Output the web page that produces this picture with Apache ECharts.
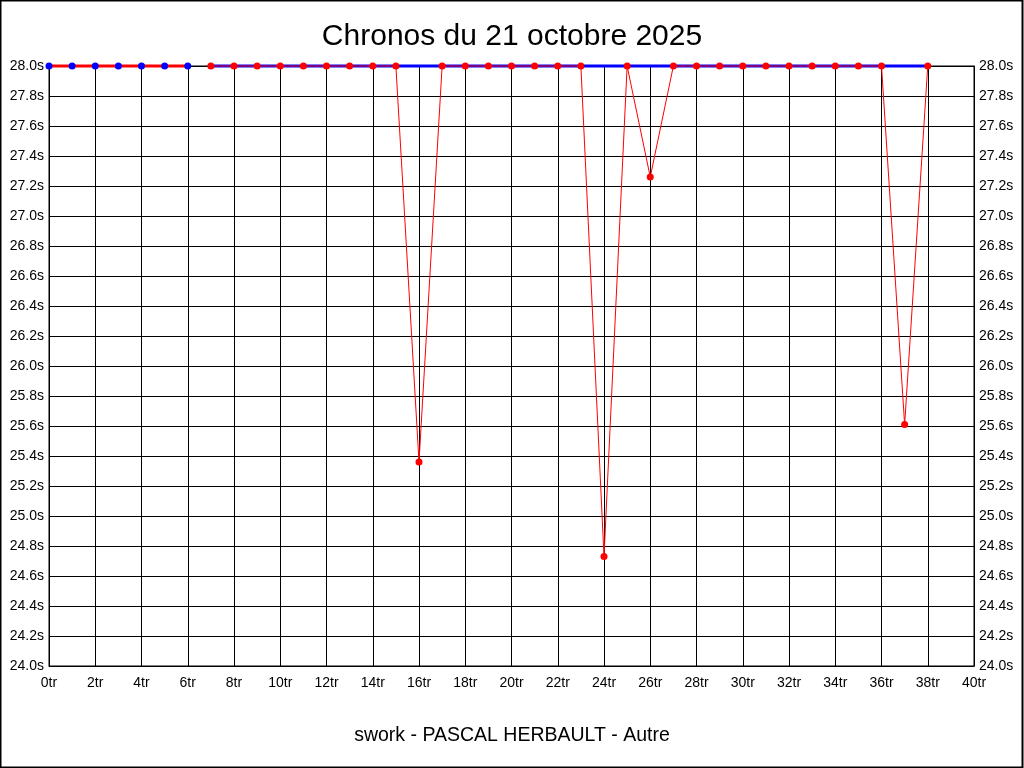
<!DOCTYPE html>
<html>
<head>
<meta charset="utf-8">
<script src="https://cdn.jsdelivr.net/npm/echarts@6/dist/echarts.min.js"></script>
<style>
html,body{margin:0;padding:0;background:#fff;}
#chart{width:1024px;height:768px;}
</style>
</head>
<body>
<div id="chart"></div>
<script>
const titleText = "Chronos du 21 octobre 2025";
const subtitleText = "swork - PASCAL HERBAULT - Autre";

// Laps 0..6 (red thick line, blue dots)
const warmupLaps  = [0, 1, 2, 3, 4, 5, 6];
const warmupTimes = [28.0, 28.0, 28.0, 28.0, 28.0, 28.0, 28.0];

// Laps 7..38 (thin red line, red dots)
const raceLaps  = [7, 8, 9, 10, 11, 12, 13, 14, 15, 16, 17, 18, 19, 20, 21, 22, 23,
                   24, 25, 26, 27, 28, 29, 30, 31, 32, 33, 34, 35, 36, 37, 38];
const raceTimes = [28.0, 28.0, 28.0, 28.0, 28.0, 28.0, 28.0, 28.0, 28.0, 25.36, 28.0, 28.0, 28.0, 28.0, 28.0, 28.0, 28.0,
                   24.73, 28.0, 27.26, 28.0, 28.0, 28.0, 28.0, 28.0, 28.0, 28.0, 28.0, 28.0, 28.0, 25.61, 28.0];

// Blue reference line
const refLaps  = [7, 38];
const refTimes = [28.0, 28.0];

const xTicks = {min: 0, max: 40, interval: 2};
const yTicks = {min: 24.0, max: 28.0, interval: 0.2};

const zip = (a, b) => a.map((v, i) => [v, b[i]]);
const FONT = 'Liberation Sans, Arial, sans-serif';

const yLabel = {
  color: '#000', fontSize: 14, fontFamily: FONT, margin: 5,
  formatter: v => v.toFixed(1) + 's'
};

const chart = echarts.init(document.getElementById('chart'), null, {renderer: 'canvas'});
chart.setOption({
  animation: false,
  backgroundColor: '#fff',
  title: [
    {text: titleText, left: 'center', top: 17,
     textStyle: {fontFamily: FONT, fontSize: 30, fontWeight: 'normal', color: '#000'}},
    {text: subtitleText, left: 'center', top: 721,
     textStyle: {fontFamily: FONT, fontSize: 19.5, fontWeight: 'normal', color: '#000'}}
  ],
  graphic: [{
    type: 'rect', silent: true,
    shape: {x: 0.5, y: 0.5, width: 1022, height: 767},
    style: {fill: 'none', stroke: '#000', lineWidth: 2}
  }],
  grid: {left: 49, right: 50, top: 66, bottom: 102, show: true, borderColor: '#000', borderWidth: 1},
  xAxis: {
    type: 'value', min: xTicks.min, max: xTicks.max, interval: xTicks.interval,
    axisLine: {show: true, lineStyle: {color: '#000', width: 1}},
    axisTick: {show: false},
    splitLine: {show: true, lineStyle: {color: '#000', width: 1}},
    axisLabel: {color: '#000', fontSize: 14, fontFamily: FONT, margin: 10, formatter: v => v + 'tr'}
  },
  yAxis: [
    {type: 'value', position: 'left', min: yTicks.min, max: yTicks.max, interval: yTicks.interval,
     axisLine: {show: true, lineStyle: {color: '#000'}}, axisTick: {show: false},
     splitLine: {show: true, lineStyle: {color: '#000', width: 1}}, axisLabel: yLabel},
    {type: 'value', position: 'right', min: yTicks.min, max: yTicks.max, interval: yTicks.interval,
     axisLine: {show: true, lineStyle: {color: '#000'}}, axisTick: {show: false},
     splitLine: {show: false}, axisLabel: yLabel}
  ],
  series: [
    {type: 'line', name: 'ref', data: zip(refLaps, refTimes), showSymbol: false, symbol: 'none',
     lineStyle: {color: '#0000ff', width: 3}, z: 3, clip: false},
    {type: 'line', name: 'warmup', data: zip(warmupLaps, warmupTimes), symbol: 'circle', symbolSize: 7,
     itemStyle: {color: '#0000ff'}, lineStyle: {color: '#ff0000', width: 3}, z: 4, clip: false},
    {type: 'line', name: 'race', data: zip(raceLaps, raceTimes), symbol: 'circle', symbolSize: 7,
     itemStyle: {color: '#ff0000'}, lineStyle: {color: '#ff0000', width: 1}, z: 5, clip: false}
  ]
});
</script>
</body>
</html>
